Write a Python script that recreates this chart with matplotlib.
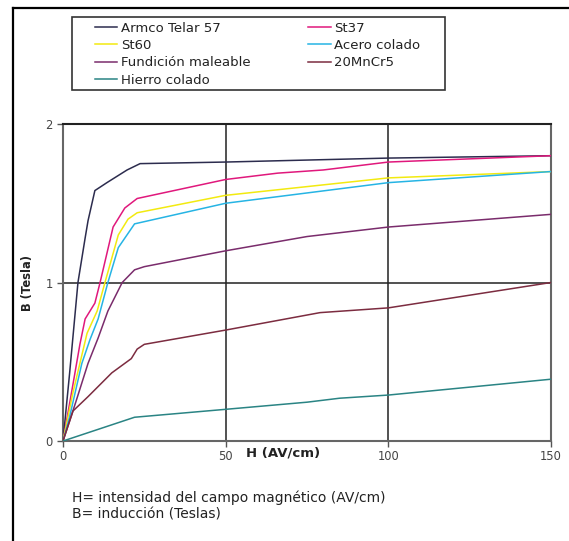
import matplotlib
matplotlib.use("Agg")
import matplotlib.pyplot as plt
from matplotlib.lines import Line2D
from matplotlib.patches import Rectangle

plt.rcParams['font.family'] = ['DejaVu Sans']

# Magnetization curves B(H) for several materials
H_armco = [0, 2, 4.6, 6.8, 7.7, 9.8, 13.5, 19.7, 23.7, 50, 100, 150]
B_armco = [0, 0.42, 1.0, 1.28, 1.39, 1.58, 1.63, 1.71, 1.75, 1.76, 1.785, 1.80]

H_st37 = [0, 3, 5.2, 6.8, 9.8, 11.4, 15.4, 19, 22.8, 50, 66, 80, 100, 150]
B_st37 = [0, 0.35, 0.61, 0.77, 0.87, 1.0, 1.35, 1.47, 1.53, 1.65, 1.69, 1.71, 1.76, 1.80]

H_st60 = [0, 3, 7.4, 10.5, 12.9, 17, 20, 22.8, 50, 100, 150]
B_st60 = [0, 0.30, 0.68, 0.82, 1.0, 1.30, 1.40, 1.44, 1.55, 1.66, 1.70]

H_acero = [0, 2, 5.8, 8.3, 10.8, 13.8, 17, 22, 50, 100, 150]
B_acero = [0, 0.15, 0.49, 0.64, 0.77, 1.0, 1.22, 1.37, 1.50, 1.63, 1.70]

H_fund = [0, 4, 7.7, 10.8, 13.8, 18.2, 22, 25, 50, 75, 100, 150]
B_fund = [0, 0.25, 0.49, 0.65, 0.82, 1.0, 1.08, 1.10, 1.20, 1.29, 1.35, 1.43]

H_mncr = [0, 3.1, 7.7, 15, 21, 22.8, 25, 50, 79, 100, 150]
B_mncr = [0, 0.19, 0.28, 0.43, 0.52, 0.58, 0.61, 0.70, 0.81, 0.84, 1.0]

H_hierro = [0, 22, 50, 75, 85, 100, 150]
B_hierro = [0, 0.15, 0.20, 0.245, 0.27, 0.29, 0.39]

x_ticks = [0, 50, 100, 150]
y_ticks = [0, 1, 2]

series = [
    ("Armco Telar 57", H_armco, B_armco, "#2c2c4e"),
    ("St37", H_st37, B_st37, "#e0187c"),
    ("St60", H_st60, B_st60, "#f2ea10"),
    ("Acero colado", H_acero, B_acero, "#26b4e4"),
    ("Fundición maleable", H_fund, B_fund, "#7a2c6c"),
    ("20MnCr5", H_mncr, B_mncr, "#7c2c40"),
    ("Hierro colado", H_hierro, B_hierro, "#2a8484"),
]

fig = plt.figure(figsize=(5.69, 5.41), dpi=100)
ax = fig.add_axes([0.1107, 0.1848, 0.8577, 0.5860])

handles = {}
for name, h, b, c in series:
    ln, = ax.plot(h, b, color=c, lw=1.1, label=name, zorder=3)
    handles[name] = ln

ax.set_xlim(0, 150)
ax.set_ylim(0, 2)
ax.set_xticks(x_ticks)
ax.set_yticks(y_ticks)
ax.set_xticklabels([str(v) for v in x_ticks])
ax.set_yticklabels([str(v) for v in y_ticks])
ax.grid(True, color="#222222", lw=1.1, zorder=1)
for s in ax.spines.values():
    s.set_color("#666666")
    s.set_linewidth(1.5)
ax.spines['top'].set_color("#222222")
ax.tick_params(axis='both', colors="#555555", labelsize=8.3, length=4, width=1.0,
               labelcolor="#444444")
ax.tick_params(axis='x', pad=2.5)

ax.text(0.451, -0.038, "H (AV/cm)", transform=ax.transAxes, ha='center', va='center',
        fontsize=9.5, fontweight='bold', color="#222222")
ax.set_ylabel("B (Tesla)", fontsize=8.3, fontweight='bold', color="#222222", labelpad=8)

# Legend in two columns inside a separate box
order = ["Armco Telar 57", "St60", "Fundición maleable", "Hierro colado",
         "St37", "Acero colado", "20MnCr5"]
leg = fig.legend([handles[n] for n in order], order, ncol=2, loc='upper left',
                 bbox_to_anchor=(0.167, 0.960), bbox_transform=fig.transFigure,
                 fontsize=9.5, frameon=False,
                 handlelength=1.7, handletextpad=0.25, labelspacing=0.33,
                 columnspacing=4.4, borderpad=0.0, borderaxespad=0)
for t in leg.get_texts():
    t.set_color("#222222")
fig.add_artist(Rectangle((0.1265, 0.8336), 0.6555, 0.135, transform=fig.transFigure,
                         fill=False, edgecolor="#333333", lw=1.2))

fig.text(0.1265, 0.0647, "H= intensidad del campo magnético (AV/cm)\nB= inducción (Teslas)",
         fontsize=10, color="#222222", ha='left', va='center', linespacing=1.25)

# Outer frame (left and top edges)
fig.add_artist(Line2D([0.0228, 0.0228], [0.0, 0.9852], transform=fig.transFigure,
                      color='black', lw=1.6))
fig.add_artist(Line2D([0.0228, 1.0], [0.9852, 0.9852], transform=fig.transFigure,
                      color='black', lw=1.6))

fig.savefig("out.png", dpi=100)
